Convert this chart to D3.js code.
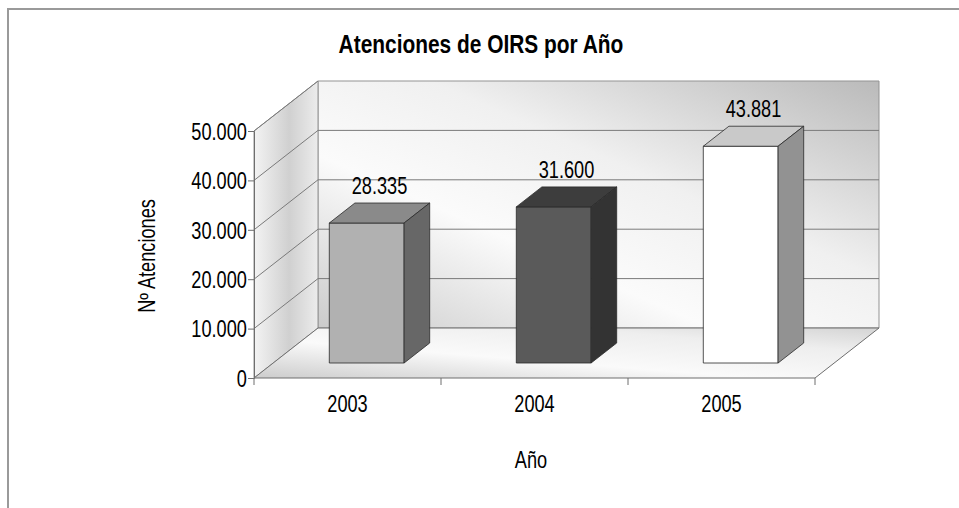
<!DOCTYPE html>
<html>
<head>
<meta charset="utf-8">
<script src="https://cdn.jsdelivr.net/npm/d3@7"></script>
<style>
  body { margin: 0; background: #fff; }
  text { font-family: "Liberation Sans", Arial, sans-serif; fill: #000; }
</style>
</head>
<body>
<div id="chart"></div>
<script>
// data
var years = ["2003", "2004", "2005"];
var atenciones = [28335, 31600, 43881];
var yTicks = [0, 10000, 20000, 30000, 40000, 50000];

var W = 959, H = 508;
var x0 = 254, x1 = 815, base = 378, plotH = 247;
var DX = 64, DY = 50;   // depth of the 3d box
var barFront = 0.3, barBack = 0.7;
var sx = 0.79;          // narrow text like the excel font
var fs = 23;

var svg = d3.select("#chart").append("svg")
    .attr("width", W).attr("height", H);

var defs = svg.append("defs");
function grad(id, xa, ya, xb, yb, stops) {
    var g = defs.append("linearGradient").attr("id", id)
        .attr("x1", xa).attr("y1", ya).attr("x2", xb).attr("y2", yb);
    stops.forEach(function (s) {
        g.append("stop").attr("offset", s[0]).attr("stop-color", s[1]);
    });
}
grad("gBack", 0, 1, 1, 0, [[0, "#cbcbcb"], [0.35, "#fbfbfb"], [0.6, "#f0f0f0"], [1, "#bababa"]]);
grad("gSide", 0, 0, 1, 0, [[0, "#f3f3f3"], [0.55, "#d0d0d0"], [1, "#ececec"]]);
grad("gFloor", 0, 1, 1, 0, [[0, "#cccccc"], [0.4, "#fafafa"], [0.75, "#eeeeee"], [1, "#d4d4d4"]]);

// frame
svg.append("path").attr("d", "M8,508V9H959")
    .attr("fill", "none").attr("stroke", "#9a9a9a").attr("stroke-width", 2);

var x = d3.scaleBand().domain(years).range([x0, x1]);
var y = d3.scaleLinear().domain([0, 50000]).range([base, base - plotH]);
var yMax = y.domain()[1];

function pt(px, v, d) { return [px + d * DX, y(v) - d * DY]; }
function poly(pts) { return "M" + pts.map(function (p) { return p.join(","); }).join("L") + "Z"; }

// back wall
svg.append("path").attr("d", poly([pt(x0, 0, 1), pt(x0, yMax, 1), pt(x1, yMax, 1), pt(x1, 0, 1)]))
    .attr("fill", "url(#gBack)").attr("stroke", "#939393").attr("stroke-width", 1);
// side wall
svg.append("path").attr("d", poly([pt(x0, 0, 0), pt(x0, yMax, 0), pt(x0, yMax, 1), pt(x0, 0, 1)]))
    .attr("fill", "url(#gSide)").attr("stroke", "#939393").attr("stroke-width", 1);
// floor
svg.append("path").attr("d", poly([pt(x0, 0, 0), pt(x1, 0, 0), pt(x1, 0, 1), pt(x0, 0, 1)]))
    .attr("fill", "url(#gFloor)").attr("stroke", "#6e6e6e").attr("stroke-width", 1);

// grid lines
var grid = svg.append("g").attr("stroke", "#7a7a7a").attr("stroke-width", 1).attr("fill", "none");
yTicks.forEach(function (t) {
    if (t > 0 && t < yMax) {
        grid.append("path").attr("d", "M" + pt(x0, t, 1) + "L" + pt(x1, t, 1));
    }
    if (t > 0) {
        grid.append("path").attr("d", "M" + pt(x0, t, 0) + "L" + pt(x0, t, 1));
    }
});

function fmt(v) { return d3.format(",")(v).replace(/,/g, "."); }

// axes
var yAxis = svg.append("g").attr("transform", "translate(" + x0 + ",0)")
    .call(d3.axisLeft(y).tickValues(yTicks).tickSize(6).tickPadding(3).tickFormat(fmt));
yAxis.select(".domain").attr("stroke", "#6e6e6e");
yAxis.selectAll(".tick line").attr("stroke", "#6e6e6e");
yAxis.selectAll("text").attr("font-size", fs).attr("dy", "0.36em")
    .attr("transform", "scale(" + sx + ",1)")
    .style("font-family", "Liberation Sans, Arial, sans-serif").attr("fill", "#000");

var xAxis = svg.append("g").attr("transform", "translate(0," + base + ")")
    .call(d3.axisBottom(x).tickSize(0).tickPadding(18));
xAxis.select(".domain").remove();
xAxis.selectAll("text").attr("font-size", fs).attr("fill", "#000")
    .style("font-family", "Liberation Sans, Arial, sans-serif")
    .attr("transform", "scale(" + sx + ",1)");
// category separators
svg.append("g").selectAll("line").data(x.domain().map(function (d) { return x(d); }).concat([x1]))
    .join("line")
    .attr("x1", function (d) { return d; }).attr("x2", function (d) { return d; })
    .attr("y1", base).attr("y2", base + 7)
    .attr("stroke", "#6e6e6e");

// bars
var faces = [
    {front: "#b1b1b1", top: "#8a8a8a", side: "#676767"},
    {front: "#5a5a5a", top: "#3d3d3d", side: "#333333"},
    {front: "#ffffff", top: "#c9c9c9", side: "#929292"}
];
var bw = x.bandwidth() * 0.4;
var bars = svg.append("g").attr("stroke", "#2a2a2a").attr("stroke-width", 0.8).attr("stroke-linejoin", "round");
years.forEach(function (yr, i) {
    var v = atenciones[i];
    var l = x(yr) + (x.bandwidth() - bw) / 2, r = l + bw;
    var c = faces[i];
    // front face
    bars.append("path").attr("fill", c.front)
        .attr("d", poly([pt(l, 0, barFront), pt(l, v, barFront), pt(r, v, barFront), pt(r, 0, barFront)]));
    // top
    bars.append("path").attr("fill", c.top)
        .attr("d", poly([pt(l, v, barFront), pt(l, v, barBack), pt(r, v, barBack), pt(r, v, barFront)]));
    // right side
    bars.append("path").attr("fill", c.side)
        .attr("d", poly([pt(r, 0, barFront), pt(r, v, barFront), pt(r, v, barBack), pt(r, 0, barBack)]));
    // value label
    var lp = pt((l + r) / 2, v, (barFront + barBack) / 2);
    svg.append("text").attr("x", lp[0] / sx).attr("y", lp[1] - 19)
        .attr("transform", "scale(" + sx + ",1)")
        .attr("text-anchor", "middle").attr("font-size", fs)
        .text(fmt(v));
});

// titles
svg.append("text").attr("x", 481 / 0.82).attr("y", 53).attr("transform", "scale(0.82,1)")
    .attr("text-anchor", "middle").attr("font-size", 25.5).attr("font-weight", "bold")
    .text("Atenciones de OIRS por Año");
svg.append("text").attr("transform", "translate(155,256) rotate(-90) scale(" + sx + ",1)")
    .attr("text-anchor", "middle").attr("font-size", fs)
    .text("Nº Atenciones");
svg.append("text").attr("x", 531 / sx).attr("y", 468).attr("transform", "scale(" + sx + ",1)")
    .attr("text-anchor", "middle").attr("font-size", fs)
    .text("Año");
</script>
</body>
</html>
